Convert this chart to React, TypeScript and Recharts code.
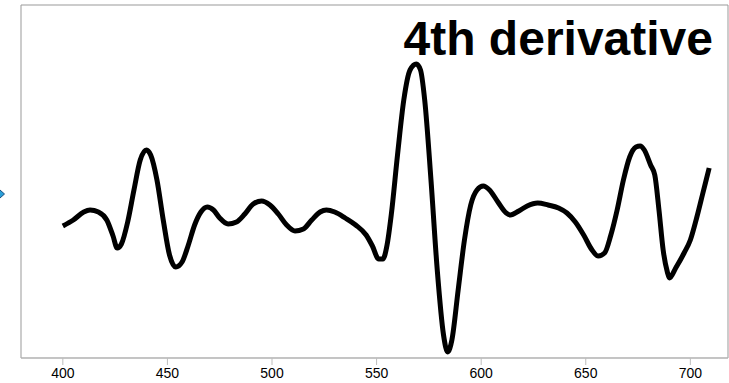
import React from 'react';
import { LineChart, Line, XAxis, YAxis, ReferenceArea } from 'recharts';

// wavelength (nm) and 4th-derivative signal (arbitrary units)
const wavelengths = [
  400, 405, 410, 413, 417, 421, 424, 426, 428, 431, 434, 437, 440, 442, 445, 448, 451, 454, 457, 460,
  463, 466, 469, 472, 475, 479, 483, 487, 491, 495, 499, 503, 507, 511, 515, 519, 523, 526, 530, 535,
  540, 545, 548, 551, 553, 555, 557, 560, 563, 566, 569, 571, 573, 576, 579, 582, 584, 586, 589, 592,
  595, 598, 601, 604, 608, 612, 614, 618, 622, 627, 632, 637, 641, 645, 649, 653, 656, 659, 662, 665,
  668, 671, 674, 676, 678, 681, 683, 685, 687, 689, 690, 693, 697, 700, 703, 706, 709,
];
const signal = [
  -1, 5, 13, 15, 13, 5, -11, -23, -19, 3, 35, 65, 75, 70, 45, 5, -30, -42, -37, -20,
  0, 13, 18, 15, 7, 1, 3, 11, 21, 24, 20, 11, 0, -6, -4, 5, 13, 15, 13, 7,
  0, -10, -21, -34, -34, -20, 10, 70, 125, 155, 161, 155, 125, 45, -45, -110, -127, -115, -65, -15,
  20, 35, 39, 35, 23, 12, 10, 14, 19, 22, 20, 17, 12, 3, -10, -25, -31, -28, -10, 15,
  45, 68, 78, 79, 75, 60, 50, 15, -25, -47, -53, -43, -28, -15, 7, 32, 57,
];
const xTicks = [400, 450, 500, 550, 600, 650, 700];
const title = '4th derivative';

const data = wavelengths.map((w, i) => ({ nm: w, d4: signal[i] }));

const font = '"Liberation Sans", Arial, sans-serif';

export default function App() {
  return (
    <div style={{ position: 'absolute', left: 0, top: 0, width: 729, height: 383, background: '#fff' }}>
      <LineChart width={729} height={383} data={data} margin={{ top: 5, right: 1, left: 21, bottom: 0 }}>
        <XAxis
          dataKey="nm"
          type="number"
          domain={[380, 718]}
          ticks={xTicks}
          height={25}
          tickSize={7}
          tickMargin={3}
          axisLine={{ stroke: '#bdbdbd' }}
          tickLine={{ stroke: '#bdbdbd' }}
          tick={{ fill: '#000', fontSize: 14, fontFamily: font }}
        />
        <YAxis hide domain={[-133, 220]} type="number" />
        <ReferenceArea x1={380} x2={718} y1={-133} y2={220} fill="none" stroke="#999" strokeWidth={1} />
        <Line
          type="monotone"
          dataKey="d4"
          stroke="#000"
          strokeWidth={5}
          dot={false}
          isAnimationActive={false}
        />
        <text x={713} y={55} textAnchor="end" fontFamily={font} fontWeight="bold" fontSize={48} fill="#000">
          {title}
        </text>
      </LineChart>
      <svg width={10} height={20} style={{ position: 'absolute', left: 0, top: 184 }}>
        <polygon points="0,6 4.5,10 0,14 -4.5,10" fill="#2a9fd8" stroke="#1b4f80" strokeWidth={1} />
      </svg>
    </div>
  );
}
